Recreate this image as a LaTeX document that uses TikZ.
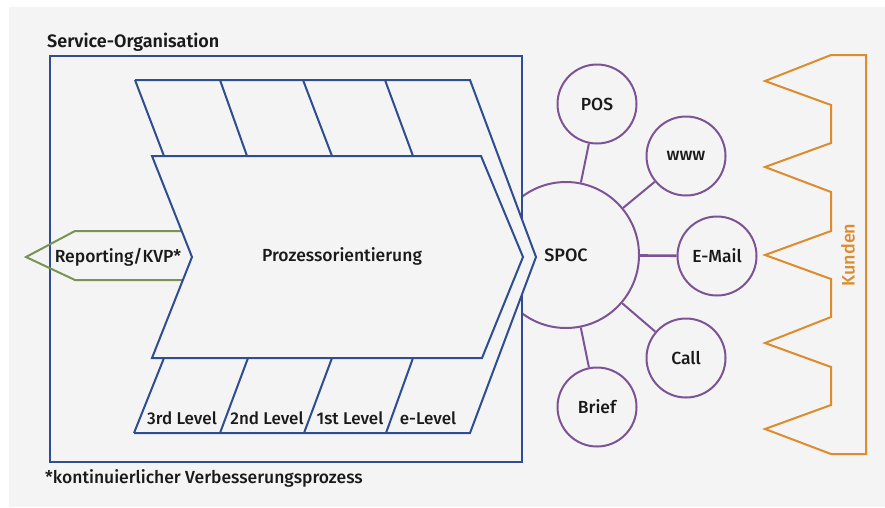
\documentclass[tikz,border=0pt]{standalone}
\usepackage{fontspec}
\setmainfont{Fira Sans}[UprightFont=* Medium, BoldFont=* SemiBold]
\definecolor{bg}{RGB}{244,244,244}
\definecolor{orgblue}{RGB}{46,78,145}
\definecolor{chpurple}{RGB}{124,84,150}
\definecolor{repgreen}{RGB}{122,146,84}
\definecolor{kdorange}{RGB}{221,140,45}
\definecolor{txt}{RGB}{26,26,26}
\tikzset{
  blueline/.style={draw=orgblue, line width=2pt, line join=miter},
  greenline/.style={draw=repgreen, line width=2pt},
  orangeline/.style={draw=kdorange, line width=2pt},
  conn/.style={draw=chpurple, line width=2pt},
  bigc/.style={circle, draw=chpurple, line width=2pt, fill=bg, minimum size=146pt, inner sep=0pt, text=txt, font=\fontsize{18}{20}\selectfont},
  smallc/.style={circle, draw=chpurple, line width=2pt, fill=bg, minimum size=79pt, inner sep=0pt, text=txt, font=\fontsize{17.5}{20}\selectfont},
  lbl/.style={text=txt, font=\fontsize{17.5}{20}\selectfont, inner sep=1pt},
  lvl/.style={text=txt, font=\fontsize{17}{20}\selectfont, inner sep=1pt},
  titlefont/.style={text=txt, font=\bfseries\fontsize{18}{20}\selectfont, inner sep=0pt},
}
\begin{document}
\begin{tikzpicture}[x=1pt,y=-1pt]
\useasboundingbox (0,0) rectangle (885,507);
\fill[white] (0,0) rectangle (885,507);
\fill[bg] (9,7) rectangle (885,507);

% SPOC and channels
\node[bigc] (spoc) at (566,255) {SPOC};
\node[smallc] (pos) at (597,104) {POS};
\node[smallc] (www) at (686,156) {www};
\node[smallc] (mail) at (717,256) {E-Mail};
\node[smallc] (call) at (686,358) {Call};
\node[smallc] (brief) at (597,407) {Brief};
\foreach \n in {pos,www,call,brief} \draw[conn] (spoc) -- (\n);
\draw[conn, line width=2.6pt] (spoc) -- (mail);

% organisation frame
\node[titlefont, anchor=base west] (orgtitle) at (47,47) {Service-Organisation};
\draw[blueline, fill=bg] (50,56) rectangle (522,462);

% reporting arrow
\draw[greenline] (200,231) -- (75,231) -- (26,257) -- (75,280) -- (200,280);

% process band fill
\fill[bg] (135,80) -- (470,80) -- (536,257) -- (470,433) -- (134,433) -- (164,358) -- (152,358) -- (192,257) -- (152,156) -- (164,156) -- cycle;
% outer band
\draw[blueline] (135,80) -- (470,80) -- (536,257) -- (470,433) -- (134,433);
% inner chevron
\draw[blueline] (152,156) -- (481,156) -- (523,257) -- (482,358) -- (152,358) -- (192,257) -- cycle;
% top cells
\draw[blueline] (135,80) -- (164,156);
\draw[blueline] (220,80) -- (247,156);
\draw[blueline] (303,80) -- (332,156);
\draw[blueline] (385,80) -- (413,156);
% bottom cells
\draw[blueline] (164,358) -- (134,433);
\draw[blueline] (248,358) -- (220,433);
\draw[blueline] (332,358) -- (304,433);
\draw[blueline] (413,358) -- (386,433);

% texts
\node[lbl] (proz) at (342,256) {Prozessorientierung};
\node[lbl, fill=bg] (rep) at (118,257) {Reporting/KVP*};
\node[lvl] (l3) at (182,418) {3rd Level};
\node[lvl] (l2) at (267,418) {2nd Level};
\node[lvl] (l1) at (350,418) {1st Level};
\node[lvl] (le) at (428,418) {e-Level};
\node[lbl, anchor=base west, inner sep=0pt] (foot) at (45,483) {*kontinuierlicher Verbesserungsprozess};

% customers
\draw[orangeline] (866,55) -- (831,55) -- (765,81) -- (831,105) -- (831,143) -- (765,167) -- (831,192) -- (831,231) -- (765,255) -- (831,279) -- (831,317) -- (765,343) -- (831,367) -- (831,405) -- (765,429) -- (831,454) -- (866,454) -- cycle;
\node[rotate=90, text=kdorange, font=\fontsize{18}{20}\selectfont] (kunden) at (848,255) {Kunden};
\end{tikzpicture}
\end{document}
